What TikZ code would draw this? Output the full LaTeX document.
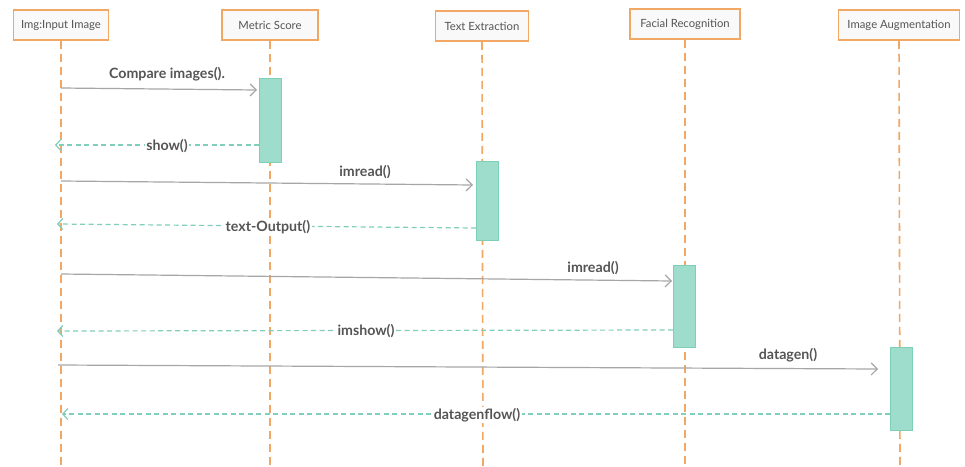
\documentclass[tikz,border=0pt]{standalone}
\usepackage{fontspec}
\setmainfont{Lato}
\usetikzlibrary{arrows.meta}
\definecolor{lineorange}{HTML}{F2A765}
\definecolor{barfill}{HTML}{9EDDCB}
\definecolor{barline}{HTML}{7DCFB6}
\definecolor{retteal}{HTML}{80CFBB}
\definecolor{callgrey}{HTML}{A6A6A6}
\definecolor{txtgrey}{HTML}{555555}
\definecolor{hdrfill}{HTML}{F9F9F9}
\tikzset{
  header/.style={draw=lineorange, line width=1.6pt, fill=hdrfill, minimum height=30pt,
    inner sep=0pt, text=txtgrey, font=\fontsize{11.3}{13}\selectfont},
  lifeline/.style={draw=lineorange, line width=1.6pt, dash pattern=on 8pt off 5pt},
  actbar/.style={draw=barline, line width=1pt, fill=barfill, minimum width=22pt, inner sep=0pt},
  call/.style={draw=callgrey, line width=1.2pt, -{Straight Barb[length=6pt,width=12pt,line width=1.2pt]}},
  ret/.style={draw=retteal, line width=1.2pt, dash pattern=on 5pt off 3.5pt,
    -{Straight Barb[length=5pt,width=11pt,line width=1.2pt]}},
  msg/.style={text=txtgrey, font=\fontsize{14.2}{16}\bfseries\selectfont, inner sep=1.5pt},
  retmsg/.style={msg, fill=white}
}
\begin{document}
\begin{tikzpicture}[x=1pt,y=-1pt]
\useasboundingbox[fill=white] (0,0) rectangle (965,466);

% participants
\node[header, minimum width=95pt]  (hA) at (61,25)  {Img:Input Image};
\node[header, minimum width=96pt]  (hB) at (270,25) {Metric Score};
\node[header, minimum width=93pt]  (hC) at (482,26) {Text Extraction};
\node[header, minimum width=110pt] (hD) at (685,24) {Facial Recognition};
\node[header, minimum width=121pt] (hE) at (899,25) {Image Augmentation};

% lifeline ends
\coordinate (eA) at (61,466);
\coordinate (eB) at (270,466);
\coordinate (eC) at (483,466);
\coordinate (eD) at (685,466);
\coordinate (eE) at (900,466);
\draw[lifeline] (hA.south) -- (eA);
\draw[lifeline] (hB.south) -- (eB);
\draw[lifeline] (hC.south) -- (eC);
\draw[lifeline] (hD.south) -- (eD);
\draw[lifeline] (hE.south) -- (eE);

% activation bars
\node[actbar, minimum height=84pt] (bB) at (270,120)   {};
\node[actbar, minimum height=79pt] (bC) at (487,200.5) {};
\node[actbar, minimum height=82pt] (bD) at (684.5,306) {};
\node[actbar, minimum height=83pt] (bE) at (901,388.5) {};

% message end points
\coordinate (m1s) at (61,88);   \coordinate (m1e) at (257,90);
\coordinate (m2s) at (259,145); \coordinate (m2e) at (55,145);
\coordinate (m3s) at (61,181);  \coordinate (m3e) at (473,185);
\coordinate (m4s) at (476,228); \coordinate (m4e) at (57,224);
\coordinate (m5s) at (61,274);  \coordinate (m5e) at (672,281);
\coordinate (m6s) at (673,330); \coordinate (m6e) at (57,331);
\coordinate (m7s) at (58,365);  \coordinate (m7e) at (878,369);
\coordinate (m8s) at (890,414); \coordinate (m8e) at (62,414);

% messages
\draw[call] (m1s) -- (m1e);
\draw[ret]  (m2s) -- (m2e);
\draw[call] (m3s) -- (m3e);
\draw[ret]  (m4s) -- (m4e);
\draw[call] (m5s) -- (m5e);
\draw[ret]  (m6s) -- (m6e);
\draw[call] (m7s) -- (m7e);
\draw[ret]  (m8s) -- (m8e);

% message labels
\node[msg]    (l1) at (167,74)  {Compare images().};
\node[retmsg] (l2) at (167,146) {show()};
\node[msg]    (l3) at (365,172) {imread()};
\node[retmsg] (l4) at (268,227) {text-Output()};
\node[msg]    (l5) at (593,268) {imread()};
\node[retmsg] (l6) at (366,331) {imshow()};
\node[msg]    (l7) at (788,355) {datagen()};
\node[retmsg] (l8) at (477,415) {datagenflow()};
\end{tikzpicture}
\end{document}
